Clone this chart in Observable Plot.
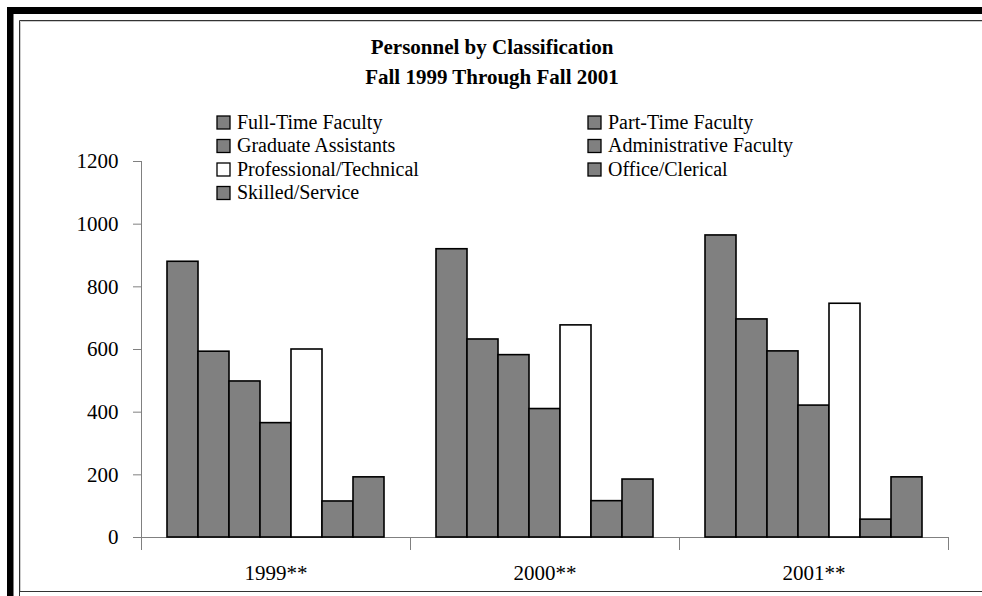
<!DOCTYPE html>
<html><head><meta charset="utf-8">
<script src="https://cdn.jsdelivr.net/npm/d3@7"></script>
<script src="https://cdn.jsdelivr.net/npm/@observablehq/plot@0.6"></script>
<style>
html,body{margin:0;padding:0;background:#fff;}
#wrap{position:relative;width:982px;height:596px;overflow:hidden;background:#fff;font-family:"Liberation Serif","Times New Roman",Times,"DejaVu Serif",serif;}
#wrap svg, #wrap svg text{font-family:"Liberation Serif","Times New Roman",Times,"DejaVu Serif",serif !important;}
#chart{position:absolute;left:0;top:0;}
#overlay{position:absolute;left:0;top:0;}
</style></head><body>
<div id="wrap">
  <div id="chart"></div>
  <svg id="overlay" width="982" height="596"></svg>
</div>
<script>
// ---- data ----
const years = ["1999**", "2000**", "2001**"];
const categories = ["Full-Time Faculty", "Part-Time Faculty", "Graduate Assistants", "Administrative Faculty", "Professional/Technical", "Office/Clerical", "Skilled/Service"];
const v1999 = [880, 593, 498, 365, 600, 115, 192];
const v2000 = [920, 632, 582, 410, 677, 116, 185];
const v2001 = [964, 696, 594, 421, 746, 57, 192];
const fills = ["#808080", "#808080", "#808080", "#808080", "#ffffff", "#808080", "#808080"];
const yTicks = [0, 200, 400, 600, 800, 1000, 1200];
const titleLines = ["Personnel by Classification", "Fall 1999 Through Fall 2001"];

// ---- layout ----
const FONT = '"Liberation Serif","Times New Roman",Times,"DejaVu Serif",serif';
const W = 982, H = 596, mL = 140, mR = 33, mT = 161, mB = 59;
const plotH = H - mT - mB;
const series = [v1999, v2000, v2001];
const data = years.flatMap((yr, i) => categories.map((c, j) => ({year: yr, category: c, value: series[i][j]})));

const chart = Plot.plot({
  width: W, height: H,
  marginLeft: mL, marginRight: mR, marginTop: mT, marginBottom: mB,
  style: {fontFamily: FONT, background: "transparent", color: "#000"},
  fx: {domain: years, padding: 0, axis: null},
  x: {domain: categories, paddingInner: 0, paddingOuter: 0.73, axis: null},
  y: {domain: [0, 1200], axis: null},
  color: {domain: categories, range: fills},
  marks: [
    Plot.ruleY([0], {stroke: "#808080", strokeWidth: 1}),
    Plot.frame({anchor: "left", stroke: "#808080", insetTop: plotH, insetBottom: -12}),
    Plot.frame({anchor: "right", stroke: "#808080", insetTop: plotH, insetBottom: -12}),
    Plot.frame({anchor: "left", stroke: "#808080", facetAnchor: "left"}),
    Plot.barY(data, {fx: "year", x: "category", y: "value", fill: "category", stroke: "#000", strokeWidth: 1.6}),
    Plot.axisY({ticks: yTicks, tickSize: 8, tickPadding: 15, stroke: "#808080", fill: "#000", fontSize: 21, fontFamily: FONT, tickFormat: d3.format("d"), label: null}),
    Plot.axisFx({anchor: "bottom", tickSize: 0, tickPadding: 28, fontSize: 21, fontFamily: FONT, fill: "#000", label: null})
  ]
});
document.getElementById("chart").appendChild(chart);

// ---- overlay: frame, title, legend ----
const ov = d3.select("#overlay");
// thick black border
ov.append("rect").attr("x", 7).attr("y", 7).attr("width", 6.5).attr("height", 589).attr("fill", "#000");
ov.append("rect").attr("x", 7).attr("y", 7).attr("width", 975).attr("height", 7).attr("fill", "#000");
// inner thin border
ov.append("path").attr("d", "M19.5,596V20.5H982M19,591.5H982").attr("stroke", "#333").attr("fill", "none");
ov.append("path").attr("d", "M20.5,591V21.5H982").attr("stroke", "#ccc").attr("fill", "none");

// title
ov.selectAll("text.title").data(titleLines).join("text")
  .attr("class", "title")
  .attr("x", 492).attr("y", (d, i) => 54 + i * 30)
  .attr("text-anchor", "middle")
  .style("font-family", FONT).attr("font-weight", "bold").attr("font-size", 21)
  .text(d => d);

// legend (row-major, two columns)
const colSwatchX = [217, 588], colTextX = [237, 608];
const lg = ov.selectAll("g.lg").data(categories).join("g").attr("class", "lg")
  .attr("transform", (d, i) => `translate(0,${116 + Math.floor(i / 2) * 23.5})`);
lg.append("rect")
  .attr("x", (d, i) => colSwatchX[i % 2]).attr("y", 0).attr("width", 13).attr("height", 13)
  .attr("fill", (d, i) => fills[i]).attr("stroke", "#000").attr("stroke-width", 1.3);
lg.append("text")
  .attr("x", (d, i) => colTextX[i % 2]).attr("y", 12.6)
  .style("font-family", FONT).attr("font-size", 20)
  .text(d => d);
</script>
</body></html>
